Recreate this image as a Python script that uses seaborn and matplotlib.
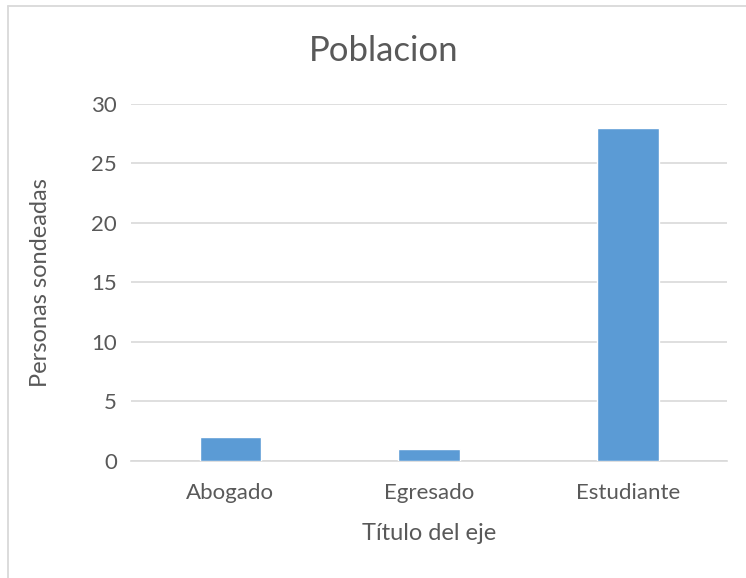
import matplotlib
matplotlib.use('Agg')
import matplotlib.pyplot as plt
import seaborn as sns
import pandas as pd
from matplotlib.lines import Line2D

# Data
categorias = ['Abogado', 'Egresado', 'Estudiante']
personas = [2, 1, 28]
y_ticks = [0, 5, 10, 15, 20, 25, 30]

df = pd.DataFrame({'categoria': categorias, 'personas': personas})

sns.set_style('white')
plt.rcParams['font.family'] = ['Lato', 'DejaVu Sans']
text_color = '#595959'
grid_color = '#D9D9D9'

fig = plt.figure(figsize=(7.46, 5.78), dpi=100)
ax = fig.add_axes([0.1756, 0.2024, 0.799, 0.618])

# outer chart border (left and top edges visible)
bx, by = 7.5 / 746, 1 - 5.5 / 578
fig.add_artist(Line2D([bx, bx], [0, by], transform=fig.transFigure,
                      color=grid_color, linewidth=1.3))
fig.add_artist(Line2D([bx, 1], [by, by], transform=fig.transFigure,
                      color=grid_color, linewidth=1.3))

sns.barplot(data=df, x='categoria', y='personas', color='#5B9BD5',
            width=0.31, saturation=1, ax=ax, zorder=3)

ax.set_ylim(0, 30)
ax.set_yticks(y_ticks)
ax.yaxis.grid(True, color=grid_color, linewidth=1.2, zorder=0)
for s in ['top', 'right', 'left']:
    ax.spines[s].set_visible(False)
ax.spines['bottom'].set_color(grid_color)
ax.spines['bottom'].set_linewidth(1.2)
ax.tick_params(axis='both', length=0, colors=text_color, labelsize=16)
ax.tick_params(axis='x', pad=16)
ax.tick_params(axis='y', pad=10)

ax.set_xlabel('Título del eje', fontsize=17, color=text_color, labelpad=14)
ax.set_ylabel('Personas sondeadas', fontsize=17, color=text_color, labelpad=29)
fig.text(384 / 746, 1 - 51 / 578, 'Poblacion', fontsize=25, color=text_color,
         ha='center', va='center')

fig.savefig('out.png', dpi=100)
print("done")
